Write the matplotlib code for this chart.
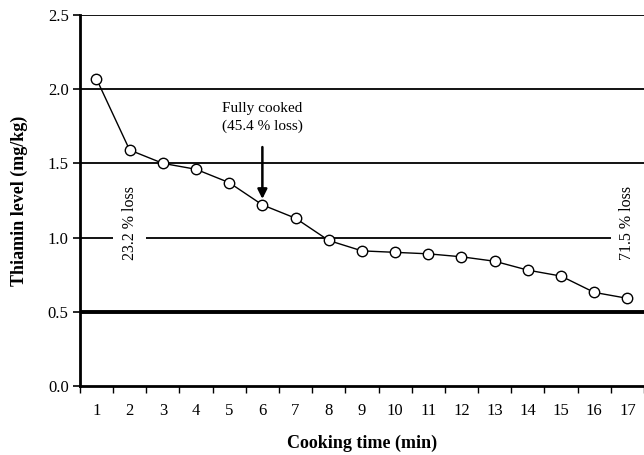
import matplotlib.pyplot as plt
import numpy as np

plt.rcParams['font.family'] = ['Liberation Serif', 'DejaVu Serif']

# cooking time (min) and thiamin level (mg/kg)
minutes = np.arange(1, 18)
thiamin = [2.07, 1.59, 1.50, 1.46, 1.37, 1.22, 1.13, 0.98, 0.91,
           0.90, 0.89, 0.87, 0.84, 0.78, 0.74, 0.63, 0.59]

fig = plt.figure(figsize=(6.44, 4.55), dpi=100)
ax = fig.add_axes([0.124, 0.152, 0.876, 0.815])

# horizontal lines
for y in [1.0, 1.5, 2.0, 2.5]:
    ax.axhline(y, color='black', lw=1.3, zorder=1)
ax.axhline(0.5, color='black', lw=2.8, zorder=1)

ax.plot(minutes, thiamin, color='black', lw=1.0, marker='o', ms=7.5,
        mfc='white', mec='black', mew=1.0, zorder=3)

ax.set_xlim(0.5, 17.5)
ax.set_ylim(0, 2.5)
ax.set_yticks(np.arange(0, 2.51, 0.5))
ax.set_yticklabels([f'{v:.1f}' for v in np.arange(0, 2.51, 0.5)], fontsize=12)
ax.set_xticks(minutes)
ax.set_xticklabels([str(m) for m in minutes], fontsize=12)
ax.set_xticks(np.arange(0.5, 17.6, 1), minor=True)
ax.tick_params(axis='x', which='major', length=0, pad=12)
ax.tick_params(axis='x', which='minor', length=5, width=1.0, direction='out')
ax.tick_params(axis='y', length=5, width=1.2, direction='out', pad=3)

for s in ['top', 'right']:
    ax.spines[s].set_visible(False)
ax.spines['left'].set_linewidth(2)
ax.spines['bottom'].set_linewidth(2)

ax.set_xlabel('Cooking time (min)', fontsize=13, fontweight='bold', labelpad=12)
ax.set_ylabel('Thiamin level (mg/kg)', fontsize=13, fontweight='bold', labelpad=14)

box = dict(facecolor='white', edgecolor='none', pad=6)
ax.text(2, 1.10, '23.2 % loss', rotation=90, ha='center', va='center',
        fontsize=11.5, bbox=box, zorder=2)
ax.text(17, 1.10, '71.5 % loss', rotation=90, ha='center', va='center',
        fontsize=11.5, bbox=box, zorder=2)

ax.annotate('Fully cooked\n(45.4 % loss)', xy=(6, 1.26), xytext=(6, 1.81),
            ha='center', va='center', fontsize=11, linespacing=1.5,
            arrowprops=dict(arrowstyle='-|>', color='black', lw=1.8,
                            mutation_scale=14, shrinkA=8, shrinkB=0))

fig.savefig('out.png', dpi=100)
